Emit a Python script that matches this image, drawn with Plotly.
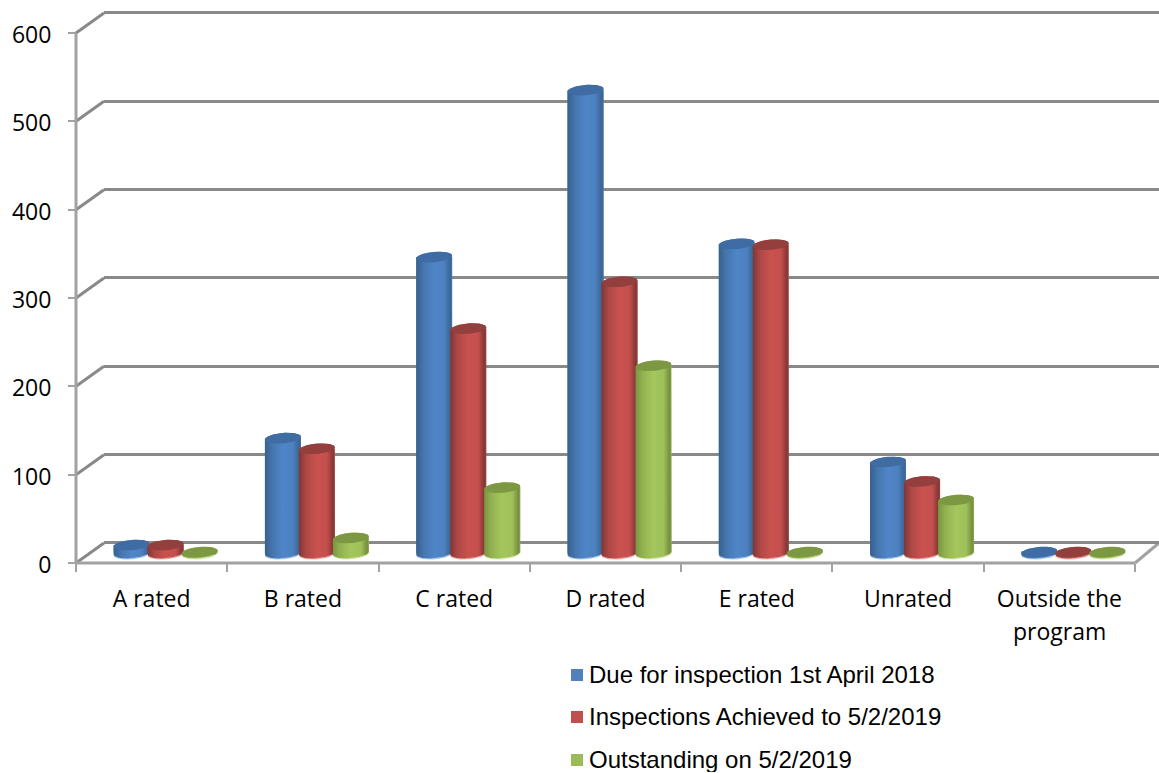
import numpy as np
import plotly.graph_objects as go

# Chart data
categories = ["A rated", "B rated", "C rated", "D rated", "E rated", "Unrated", "Outside the"]
category_second_line = "program"
series_names = ["Due for inspection 1st April 2018", "Inspections Achieved to 5/2/2019", "Outstanding on 5/2/2019"]
due_values = [9, 130, 335, 524, 350, 103, 1]
achieved_values = [9, 118, 254, 307, 349, 81, 1]
outstanding_values = [1, 17, 74, 212, 1, 60, 1]
y_ticks = [0, 100, 200, 300, 400, 500, 600]

# Colour sets per series: body gradient, lid and lower rim
styles = [
    dict(base="#4f81bd", lid="#3e6ca3", rim="#a9c8ee",
         ramp=[[0, "#37608c"], [0.2, "#4575ad"], [0.5, "#4f86c8"], [0.78, "#4d80bf"], [0.95, "#3a6594"], [1, "#4a6f9c"]]),
    dict(base="#c0504d", lid="#923f3d", rim="#eea8a6",
         ramp=[[0, "#7f3634"], [0.2, "#ad4846"], [0.5, "#c9524f"], [0.78, "#c44f4c"], [0.95, "#843735"], [1, "#8f4846"]]),
    dict(base="#9bbb59", lid="#7c9843", rim="#d8e8b0",
         ramp=[[0, "#7a9541"], [0.2, "#92b252"], [0.5, "#a4c65d"], [0.78, "#9fc05a"], [0.95, "#758f3d"], [1, "#8ba25f"]]),
]
all_values = [due_values, achieved_values, outstanding_values]

W, H = 1159, 773
SLOT = 151.3
GROUP_STEP = 34 / SLOT
BAR_WIDTH = 36 / SLOT
PX_PER_UNIT = 530 / 600
UNITS_PER_PX = 1 / PX_PER_UNIT
LID_RY = 5.2 * UNITS_PER_PX
LID_TILT = 1.4 * UNITS_PER_PX
RIM_DROP = 1.2 * UNITS_PER_PX
PAD = 10  # axis units of slack so the end gridlines and rounded bases are not clipped


def xdom(a, b):
    return [a / W, b / W]


def ydom(zero_px):
    # Domain of a 0-600 axis with PAD units of slack either side
    return [1 - (zero_px + PAD * PX_PER_UNIT) / H, 1 - (zero_px - (600 + PAD) * PX_PER_UNIT) / H]


def disc(cx, level, rx, ry, tilt, t):
    return cx + rx * np.cos(t), level + ry * np.sin(t) + tilt * np.cos(t)


fig = go.Figure()

# Bars sit on the mid-depth plane
for k, (name, vals, st) in enumerate(zip(series_names, all_values, styles)):
    fig.add_trace(go.Bar(
        x=[i + (k - 1) * GROUP_STEP for i in range(len(categories))], y=vals,
        width=BAR_WIDTH, name=name, marker=dict(color=st["base"], line_width=0),
        xaxis="x2", yaxis="y2", showlegend=False, hoverinfo="skip",
    ))

# Cylinder shading on top of each bar
rx = BAR_WIDTH / 2
for k, (vals, st) in enumerate(zip(all_values, styles)):
    for i, v in enumerate(vals):
        cx = i + (k - 1) * GROUP_STEP
        xr, yr = disc(cx, -RIM_DROP, rx, LID_RY, LID_TILT, np.linspace(0, 2 * np.pi, 60))
        fig.add_trace(go.Scatter(x=xr, y=yr, mode="lines", line_width=0, fill="toself", fillcolor=st["rim"],
                                 xaxis="x2", yaxis="y2", showlegend=False, hoverinfo="skip"))
        xb, yb = disc(cx, 0, rx, LID_RY, LID_TILT, np.linspace(np.pi, 2 * np.pi, 40))
        xt, yt = disc(cx, v, rx, LID_RY, LID_TILT, np.linspace(0, np.pi, 40))
        fig.add_trace(go.Scatter(
            x=np.r_[xb, xt], y=np.r_[yb, yt], mode="lines", line_width=0, fill="toself",
            fillgradient=dict(type="horizontal", colorscale=st["ramp"]),
            xaxis="x2", yaxis="y2", showlegend=False, hoverinfo="skip"))
        xl, yl = disc(cx, v, rx, LID_RY, LID_TILT, np.linspace(0, 2 * np.pi, 60))
        fig.add_trace(go.Scatter(x=xl, y=yl, mode="lines", line_width=0, fill="toself", fillcolor=st["lid"],
                                 xaxis="x2", yaxis="y2", showlegend=False, hoverinfo="skip"))

GRID = "#898989"
AXIS = "#a2a2a2"
FRONT_ZERO, BACK_ZERO, MID_ZERO = 563, 543, 553

# Side wall and floor edges joining the front axes to the back wall
shapes = []
for tv in y_ticks:
    y0 = FRONT_ZERO - tv * PX_PER_UNIT
    y1 = BACK_ZERO - tv * PX_PER_UNIT
    shapes.append(dict(type="line", xref="paper", yref="paper", x0=76 / W, x1=104 / W,
                       y0=1 - y0 / H, y1=1 - y1 / H, line=dict(color=GRID, width=3), layer="below"))
shapes.append(dict(type="line", xref="paper", yref="paper", x0=1135 / W, x1=1159 / W,
                   y0=1 - FRONT_ZERO / H, y1=1 - BACK_ZERO / H, line=dict(color=AXIS, width=3), layer="below"))

# Axis lines of the front plane
shapes.append(dict(type="line", xref="paper", yref="paper", x0=76 / W, x1=76 / W,
                   y0=1 - FRONT_ZERO / H, y1=1 - (FRONT_ZERO - 530) / H, line=dict(color=AXIS, width=3)))
shapes.append(dict(type="line", xref="paper", yref="paper", x0=76 / W, x1=1135 / W,
                   y0=1 - FRONT_ZERO / H, y1=1 - FRONT_ZERO / H, line=dict(color=AXIS, width=3)))

# Legend rows: swatch and label
LEGEND_ROWS = [675, 717, 760]
annotations = []
for name, st, row in zip(series_names, styles, LEGEND_ROWS):
    shapes.append(dict(type="rect", xref="paper", yref="paper", x0=571 / W, x1=583 / W,
                       y0=1 - (row + 6) / H, y1=1 - (row - 6) / H, fillcolor=st["base"], line_width=0))
    annotations.append(dict(text=name, xref="paper", yref="paper", x=587 / W, y=1 - (row - 1) / H,
                            xanchor="left", yanchor="middle", showarrow=False, height=26, valign="middle",
                            font=dict(family="Liberation Sans", size=24, color="#000000")))

FONT = "Open Sans"
TICK_FONT = dict(family=FONT, size=23, color="#000000")
annotations.append(dict(text=category_second_line, xref="x3", yref="paper", x=6, y=1 - 631 / H,
                        xanchor="center", yanchor="middle", showarrow=False, font=TICK_FONT))

fig.update_layout(
    template="none",
    width=W, height=H, autosize=False, margin=dict(l=0, r=0, t=0, b=0, pad=0),
    paper_bgcolor="white", plot_bgcolor="rgba(0,0,0,0)", barmode="overlay", showlegend=False,
    font=dict(family=FONT, size=23, color="#000000"), shapes=shapes, annotations=annotations,
    # back wall
    xaxis=dict(domain=xdom(104, 1159), range=[0, 1], visible=False, fixedrange=True, automargin=False),
    yaxis=dict(domain=ydom(BACK_ZERO), range=[-PAD, 600 + PAD], anchor="x", tickmode="array", tickvals=y_ticks,
               showticklabels=False, ticks="", showgrid=True, gridcolor=GRID, gridwidth=3,
               zeroline=False, showline=False, fixedrange=True, automargin=False),
    # mid-depth plane carrying the bars
    xaxis2=dict(domain=xdom(90, 1149), range=[-0.5, 6.5], visible=False, anchor="y2", fixedrange=True, automargin=False),
    yaxis2=dict(domain=ydom(MID_ZERO), range=[-PAD, 600 + PAD], visible=False, anchor="x2", fixedrange=True, automargin=False),
    # front axes
    xaxis3=dict(domain=xdom(76, 1135), range=[-0.5, 6.5], anchor="free", position=1 - FRONT_ZERO / H,
                tickmode="array", tickvals=list(range(7)), ticktext=categories, ticks="", showline=False,
                showgrid=False, zeroline=False, ticklabelstandoff=20, fixedrange=True, tickfont=TICK_FONT,
                automargin=False,
                minor=dict(tickmode="array", tickvals=[i - 0.5 for i in range(8)], ticks="outside",
                           ticklen=8, tickwidth=2, tickcolor=AXIS, showgrid=False)),
    yaxis3=dict(domain=ydom(FRONT_ZERO), range=[-PAD, 600 + PAD], anchor="free", position=76 / W, tickmode="array",
                tickvals=y_ticks, ticks="outside", ticklen=8, tickwidth=2, tickcolor=AXIS,
                showline=False, showgrid=False, zeroline=False, automargin=False,
                ticklabelstandoff=12, ticklabelshift=2, fixedrange=True, tickfont=TICK_FONT),
)

# Invisible points so the back wall and front axes are drawn
for xa, ya in (("x3", "y3"), ("x", "y")):
    fig.add_trace(go.Scatter(x=[0], y=[0], mode="markers", marker=dict(opacity=0), xaxis=xa, yaxis=ya,
                             showlegend=False, hoverinfo="skip"))

fig.write_html("out.html", config={"displayModeBar": False})
